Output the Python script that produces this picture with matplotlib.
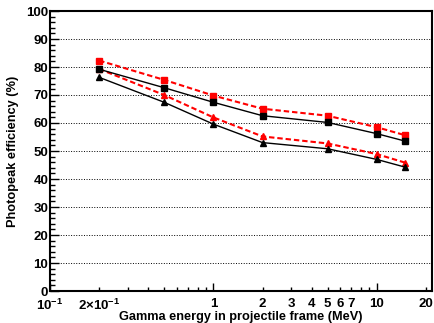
import numpy as np
import matplotlib
matplotlib.use('Agg')
import matplotlib.pyplot as plt

plt.rcParams['font.family'] = ['Liberation Sans', 'DejaVu Sans']
plt.rcParams['font.weight'] = 'bold'
plt.rcParams['mathtext.fontset'] = 'custom'
plt.rcParams['mathtext.rm'] = 'Liberation Sans:bold'
plt.rcParams['mathtext.it'] = 'Liberation Sans:bold'
plt.rcParams['mathtext.bf'] = 'Liberation Sans:bold'
plt.rcParams['xtick.direction'] = 'in'
plt.rcParams['ytick.direction'] = 'in'

# data (energies in MeV, efficiency in %)
energy = [0.2, 0.5, 1, 2, 5, 10, 15]
black_sq = [79.2, 72.6, 67.4, 62.6, 60.2, 56.2, 53.5]
red_sq = [82.3, 75.4, 69.8, 65.1, 62.6, 58.5, 55.6]
black_tri = [76.3, 67.4, 59.6, 53.0, 50.8, 47.0, 44.2]
red_tri = [79.3, 70.0, 62.0, 55.2, 52.7, 48.9, 45.8]

major_x = [0.1, 1, 10]
major_xlabels = ['10$^{-1}$', '1', '10']
minor_x = [0.2, 0.3, 0.4, 0.5, 0.6, 0.7, 0.8, 0.9,
           2, 3, 4, 5, 6, 7, 8, 9, 20]
minor_xlabels = ['2×10$^{-1}$', '', '', '', '', '', '', '',
                 '2', '3', '4', '5', '6', '7', '', '', '20']

fig = plt.figure(figsize=(4.34, 3.23), dpi=100)
ax = fig.add_axes([50/434, 32/323, 382/434, 280/323])

ax.plot(energy, red_tri, color='red', lw=1.5, ls=(0, (2.6, 1.4)), marker='^', ms=4.4, zorder=3)
ax.plot(energy, red_sq, color='red', lw=1.5, ls=(0, (2.6, 1.4)), marker='s', ms=4.2, zorder=3)
ax.plot(energy, black_tri, '-', color='black', lw=1.0, marker='^', ms=4.0, zorder=4)
ax.plot(energy, black_sq, '-', color='black', lw=1.0, marker='s', ms=3.8, zorder=4)

ax.set_xscale('log')
ax.set_xlim(0.1, 21.8)
ax.set_ylim(0, 100)

ax.set_xticks(major_x, major_xlabels)
ax.set_xticks(minor_x, minor_xlabels, minor=True)
ax.set_yticks(np.arange(0, 101, 10))
ax.set_yticks(np.arange(0, 101, 2), minor=True)

ax.tick_params(axis='x', which='major', length=6, width=1, labelsize=9.5, pad=5)
ax.tick_params(axis='x', which='minor', length=2.8, width=1, labelsize=9.5, pad=5)
ax.tick_params(axis='y', which='major', length=6.5, width=1, labelsize=9.5, pad=1.2)
ax.tick_params(axis='y', which='minor', length=3.5, width=1)

ax.yaxis.grid(True, which='major', linestyle=':', color='black', lw=0.7)

for s in ax.spines.values():
    s.set_linewidth(1.5)

ax.set_xlabel('Gamma energy in projectile frame (MeV)', fontsize=9.2, fontweight='bold')
ax.set_ylabel('Photopeak efficiency (%)', fontsize=9.2, fontweight='bold')
ax.xaxis.set_label_coords(0.5, -0.073)
ax.yaxis.set_label_coords(-0.08, 0.5)

fig.savefig('out.png', dpi=100)
